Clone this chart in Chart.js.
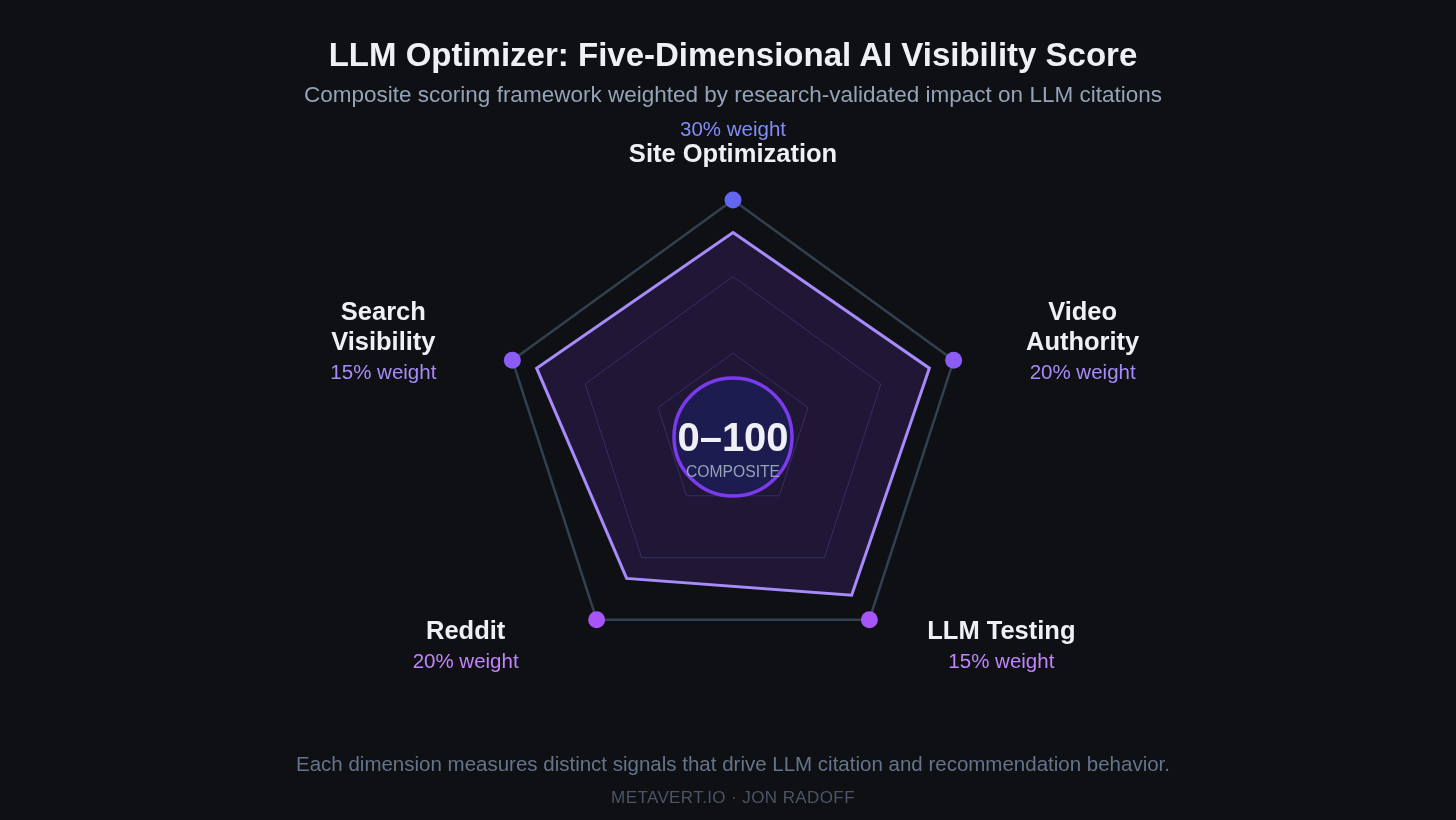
<!DOCTYPE html>
<html>
<head>
<meta charset="utf-8">
<script src="https://cdn.jsdelivr.net/npm/chart.js@4"></script>
<style>
  html, body { margin: 0; padding: 0; background: #0f1014; }
  body { width: 1456px; height: 820px; position: relative; overflow: hidden; font-family: "Liberation Sans", Arial, sans-serif; }
  #chartBox { position: absolute; left: 0; top: 0; width: 1456px; height: 820px; }
  .txt { position: absolute; left: 5px; width: 1456px; text-align: center; white-space: nowrap; }
  #title { top: 36px; font-size: 33px; line-height: 38px; font-weight: bold; color: #eef0f6; }
  #subtitle { top: 82px; font-size: 22.5px; line-height: 26px; color: #94a3b8; }
  #note { top: 751px; font-size: 20.5px; line-height: 26px; color: #64748b; }
  #byline { top: 788px; font-size: 17px; line-height: 20px; color: #4b5566; letter-spacing: 0.4px; }
  .axis { position: absolute; text-align: center; white-space: nowrap; transform: translate(-50%, -50%); }
  .axis .name { font-size: 25.5px; line-height: 30px; font-weight: bold; color: #eef0f6; }
  .axis .weight { font-size: 20.5px; line-height: 31px; }
  #lbl-0 .name, #lbl-0 .weight { line-height: 24px; }
  #centerText { position: absolute; text-align: center; transform: translate(-50%, -50%); }
  #centerText .big { font-size: 40px; line-height: 42px; font-weight: bold; color: #eef0f6; }
  #centerText .small { font-size: 15.7px; line-height: 28px; color: #94a3b8; }
</style>
</head>
<body>
<div id="chartBox"><canvas id="radarChart" width="1456" height="820"></canvas></div>
<div id="title" class="txt">LLM Optimizer: Five-Dimensional AI Visibility Score</div>
<div id="subtitle" class="txt">Composite scoring framework weighted by research-validated impact on LLM citations</div>
<div id="note" class="txt">Each dimension measures distinct signals that drive LLM citation and recommendation behavior.</div>
<div id="byline" class="txt">METAVERT.IO · JON RADOFF</div>
<div id="labels"></div>
<div id="centerText"><div class="big">0–100</div><div class="small">COMPOSITE</div></div>

<script>
// Dimensions, clockwise from the top
const DIMENSIONS = [['Site Optimization'], ['Video', 'Authority'], ['LLM Testing'], ['Reddit'], ['Search', 'Visibility']];
const WEIGHTS = ['30% weight', '20% weight', '15% weight', '20% weight', '15% weight'];
const SCORES = [86, 89, 87, 78, 89];
const MAX_SCORE = [100, 100, 100, 100, 100];
const RING_LEVELS = [0, 34, 67, 100];

const DOT_COLORS = ['#6366f1', '#8b5cf6', '#a855f7', '#a855f7', '#8b5cf6'];
const WEIGHT_COLORS = ['#818cf8', '#a78bfa', '#c084fc', '#c084fc', '#a78bfa'];

// Build the HTML axis labels
const labelsBox = document.getElementById('labels');
DIMENSIONS.forEach((lines, i) => {
    const div = document.createElement('div');
    div.className = 'axis';
    div.id = 'lbl-' + i;
    const nameHtml = lines.map(l => `<div class="name">${l}</div>`).join('');
    const weightHtml = `<div class="weight" style="color:${WEIGHT_COLORS[i]}">${WEIGHTS[i]}</div>`;
    div.innerHTML = i === 0 ? weightHtml + nameHtml : nameHtml + weightHtml;
    labelsBox.appendChild(div);
});

// Center badge + label placement, driven by the radial scale
const overlayPlugin = {
    id: 'overlay',
    afterDatasetsDraw(chart) {
        const s = chart.scales.r;
        const ctx = chart.ctx;
        const cx = s.xCenter, cy = s.yCenter + 5;

        ctx.save();
        ctx.beginPath();
        ctx.arc(cx, cy, 59, 0, Math.PI * 2);
        ctx.fillStyle = '#1c1c50';
        ctx.fill();
        ctx.lineWidth = 3.5;
        ctx.strokeStyle = '#7c3aed';
        ctx.stroke();
        ctx.restore();

        const ct = document.getElementById('centerText');
        ct.style.left = cx + 'px';
        ct.style.top = (cy + 14) + 'px';

        DIMENSIONS.forEach((_, i) => {
            const p = s.getPointPosition(i, s.drawingArea);
            const el = document.getElementById('lbl-' + i);
            let x = p.x, y = p.y;
            if (i === 0) {
                y = p.y - 59;
            } else if (i === 1 || i === 4) {
                x = p.x + (i === 1 ? 129 : -129);
                y = p.y - 19;
            } else {
                x = p.x + (i === 2 ? 132 : -131);
                y = p.y + 25;
            }
            el.style.left = x + 'px';
            el.style.top = y + 'px';
        });
    }
};

const ctx = document.getElementById('radarChart').getContext('2d');
new Chart(ctx, {
    type: 'radar',
    data: {
        labels: DIMENSIONS.map(d => d.join(' ')),
        datasets: [
            {
                label: 'Max',
                data: MAX_SCORE,
                showLine: false,
                fill: false,
                borderWidth: 0,
                pointRadius: 8.5,
                pointBorderWidth: 0,
                pointBackgroundColor: DOT_COLORS,
                clip: false
            },
            {
                label: 'Score',
                data: SCORES,
                borderColor: '#a78bfa',
                borderWidth: 3,
                backgroundColor: 'rgba(124, 58, 237, 0.16)',
                fill: true,
                pointRadius: 0,
                tension: 0,
                clip: false
            }
        ]
    },
    plugins: [overlayPlugin],
    options: {
        responsive: false,
        animation: false,
        devicePixelRatio: 1,
        layout: {
            padding: { left: 501, right: 491, top: 200, bottom: 156 }
        },
        plugins: {
            legend: { display: false },
            tooltip: { enabled: false }
        },
        scales: {
            r: {
                min: 0,
                max: 100,
                afterBuildTicks: (scale) => {
                    scale.ticks = RING_LEVELS.map(v => ({ value: v }));
                },
                ticks: { display: false },
                pointLabels: { display: false },
                angleLines: { display: false },
                grid: {
                    color: (c) => c.index === RING_LEVELS.length - 1 ? '#334050' : '#2b2c4a',
                    lineWidth: (c) => c.index === RING_LEVELS.length - 1 ? 2.5 : 1
                }
            }
        }
    }
});
</script>
</body>
</html>
